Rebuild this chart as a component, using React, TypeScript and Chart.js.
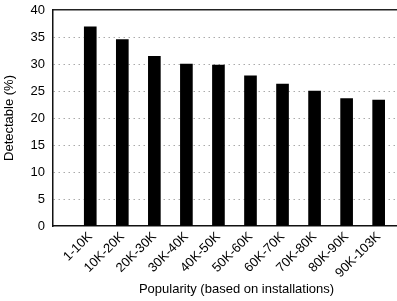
import React, { useEffect, useRef } from "react";
import { Chart, registerables } from "chart.js";

Chart.register(...registerables);

const categories = ["1-10K", "10K-20K", "20K-30K", "30K-40K", "40K-50K", "50K-60K", "60K-70K", "70K-80K", "80K-90K", "90K-103K"];
const detectable = [36.9, 34.5, 31.4, 30.0, 29.8, 27.8, 26.3, 25.0, 23.6, 23.3];
const yTicks = [0, 5, 10, 15, 20, 25, 30, 35, 40];

const FONT = "'Liberation Sans', Arial, sans-serif";

export default function App() {
  const ref = useRef<HTMLCanvasElement | null>(null);
  useEffect(() => {
    if (!ref.current) return;
    const chart = new Chart(ref.current, {
      type: "bar",
      data: {
        datasets: [
          {
            data: detectable.map((v, i) => ({ x: i, y: v })),
            backgroundColor: "#000",
            borderWidth: 0,
            barThickness: 12,
          },
        ],
      },
      options: {
        animation: false,
        responsive: false,
        devicePixelRatio: 1,
        layout: { padding: { top: 10, right: 0, left: 0, bottom: 0 } },
        plugins: { legend: { display: false }, tooltip: { enabled: false } },
        scales: {
          x: {
            type: "linear",
            position: "bottom",
            offset: false,
            bounds: "data",
            min: -1.163,
            max: 10.29,
            afterBuildTicks: (scale: any) => {
              scale.ticks = categories.map((_, i) => ({ value: i }));
            },
            afterFit: (scale: any) => {
              scale.height = 75;
              scale.paddingLeft = 0;
              scale.paddingRight = 0;
            },
            ticks: {
              autoSkip: false,
              minRotation: 45,
              maxRotation: 45,
              color: "#000",
              font: { family: FONT, size: 13 },
              padding: 3,
              callback: (v: any) => categories[v] ?? "",
            },
            grid: { display: false, drawTicks: false, offset: false },
            border: { display: true, color: "#111", width: 1.5 },
            title: {
              display: true,
              text: "Popularity (based on installations)",
              color: "#000",
              font: { family: FONT, size: 13 },
              padding: { top: 0, bottom: 4 },
            },
          },
          x2: {
            type: "linear",
            position: "top",
            offset: false,
            min: -1.163,
            max: 10.29,
            afterFit: (scale: any) => {
              scale.height = 0;
              scale.paddingLeft = 0;
              scale.paddingRight = 0;
            },
            ticks: { display: false },
            grid: { display: false, drawTicks: false },
            border: { display: true, color: "#222", width: 1.5 },
          },
          y: {
            min: 0,
            max: 40,
            afterBuildTicks: (scale: any) => {
              scale.ticks = yTicks.map((v) => ({ value: v }));
            },
            afterFit: (scale: any) => {
              scale.width = 53;
              scale.paddingTop = 0;
              scale.paddingBottom = 0;
            },
            ticks: {
              color: "#000",
              font: { family: FONT, size: 13 },
              padding: 8,
            },
            grid: {
              drawTicks: false,
              color: (ctx: any) =>
                ctx.tick && (ctx.tick.value === 0 || ctx.tick.value === 40) ? "rgba(0,0,0,0)" : "#aaa",
              lineWidth: 1,
            },
            border: { display: true, color: "#111", width: 1.5, dash: [1.5, 3.5] },
            title: {
              display: true,
              text: "Detectable (%)",
              color: "#000",
              font: { family: FONT, size: 13 },
              padding: { top: 2, bottom: 0 },
            },
          },
        },
      },
    });
    return () => chart.destroy();
  }, []);
  return (
    <div style={{ position: "fixed", left: 0, top: 0, width: 397, height: 301, overflow: "hidden", background: "#fff" }}>
      <canvas ref={ref} width={420} height={301} style={{ display: "block" }} />
    </div>
  );
}
